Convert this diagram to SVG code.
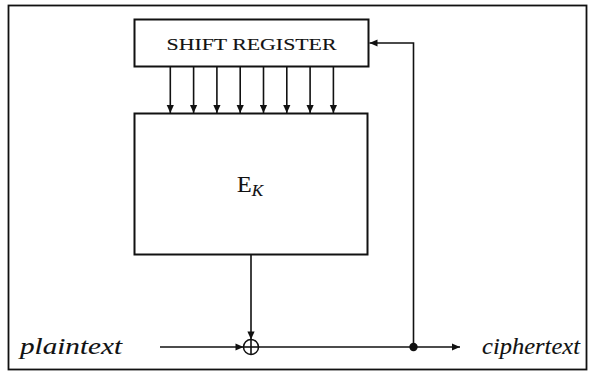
<svg xmlns="http://www.w3.org/2000/svg" width="589" height="373" viewBox="0 0 589 373">
<style>
.box{fill:#fff;stroke:#111;stroke-width:2}
.ln{fill:none;stroke:#111;stroke-width:1.6}
.t{font-family:"Liberation Serif","DejaVu Serif",serif;fill:#111;stroke:#111;stroke-width:0.12}
.it{font-style:italic}
</style>
<defs>
<marker id="ah" viewBox="0 0 10 10" refX="10" refY="5" markerWidth="9" markerHeight="8" markerUnits="userSpaceOnUse" orient="auto">
<path d="M0,0.5 L10,5 L0,9.5 Z" fill="#111"/>
</marker>
</defs>
<rect x="8.5" y="5.5" width="578" height="364" fill="#fff" stroke="#111" stroke-width="1.8"/>
<g id="shift-register">
<rect class="box" x="134.5" y="19.5" width="234" height="47"/>
<text class="t" x="251.5" y="49.5" font-size="17" text-anchor="middle" textLength="170" lengthAdjust="spacingAndGlyphs">SHIFT  REGISTER</text>
</g>
<g id="ek">
<rect class="box" x="134.5" y="113.5" width="233" height="141"/>
<text class="t" x="250" y="192" font-size="24" text-anchor="middle">E<tspan class="it" font-size="17" dy="4">K</tspan></text>
</g>
<g id="xor">
<circle cx="251" cy="347" r="7.5" fill="#fff" stroke="#111" stroke-width="1.5"/>
<line class="ln" x1="243.5" y1="347" x2="258.5" y2="347"/>
<line class="ln" x1="251" y1="339.5" x2="251" y2="354.5"/>
</g>
<g id="dot">
<circle cx="413.5" cy="347" r="4.2" fill="#111"/>
</g>
<g id="plaintext">
<text class="t it" x="20" y="354" font-size="23" textLength="102" lengthAdjust="spacingAndGlyphs">plaintext</text>
</g>
<g id="ciphertext">
<text class="t it" x="482" y="354" font-size="23" textLength="98" lengthAdjust="spacingAndGlyphs">ciphertext</text>
</g>
<g id="connectors">
<line class="ln" x1="170.3" y1="67" x2="170.3" y2="113" marker-end="url(#ah)"/>
<line class="ln" x1="193.6" y1="67" x2="193.6" y2="113" marker-end="url(#ah)"/>
<line class="ln" x1="216.9" y1="67" x2="216.9" y2="113" marker-end="url(#ah)"/>
<line class="ln" x1="240.2" y1="67" x2="240.2" y2="113" marker-end="url(#ah)"/>
<line class="ln" x1="263.5" y1="67" x2="263.5" y2="113" marker-end="url(#ah)"/>
<line class="ln" x1="286.8" y1="67" x2="286.8" y2="113" marker-end="url(#ah)"/>
<line class="ln" x1="310.1" y1="67" x2="310.1" y2="113" marker-end="url(#ah)"/>
<line class="ln" x1="333.4" y1="67" x2="333.4" y2="113" marker-end="url(#ah)"/>
<line class="ln" x1="251" y1="255" x2="251" y2="339.5" marker-end="url(#ah)"/>
<line class="ln" x1="160" y1="347" x2="243.5" y2="347" marker-end="url(#ah)"/>
<line class="ln" x1="258.5" y1="347" x2="460" y2="347" marker-end="url(#ah)"/>
<polyline class="ln" points="413.5,347 413.5,43 369.5,43" marker-end="url(#ah)"/>
</g>
</svg>
